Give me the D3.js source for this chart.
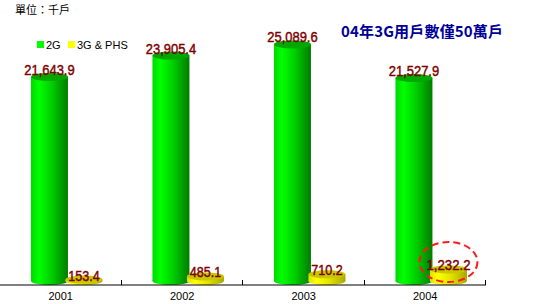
<!DOCTYPE html>
<html><head><meta charset="utf-8">
<script src="https://cdn.jsdelivr.net/npm/d3@7"></script>
<style>body{margin:0;background:#fff}svg{display:block}</style>
</head><body>
<script>
const years = ["2001","2002","2003","2004"];
const seriesNames = ["2G","3G & PHS"];
const values2G = [21643.9, 23905.4, 25089.6, 21527.9];
const values3G = [153.4, 485.1, 710.2, 1232.2];
const labels2G = ["21,643.9","23,905.4","25,089.6","21,527.9"];
const labels3G = ["153.4","485.1","710.2","1,232.2"];
const unitText = "單位：千戶";
const titleText = "04年3G用戶數僅50萬戶";

const W=555,H=304;
const svg=d3.select("body").append("svg").attr("width",W).attr("height",H);
const defs=svg.append("defs");
function grad(id,stops){
  const g=defs.append("linearGradient").attr("id",id).attr("x1","0%").attr("x2","100%").attr("y1","0%").attr("y2","0%");
  stops.forEach(s=>g.append("stop").attr("offset",s[0]).attr("stop-color",s[1]));
}
grad("gG",[["0%","#00d800"],["22%","#00ff00"],["55%","#00d000"],["100%","#007c00"]]);
grad("gY",[["0%","#e0e000"],["22%","#ffff00"],["55%","#e4e400"],["100%","#a8a800"]]);

const x=d3.scaleBand().domain(years).range([0,486]).padding(0);
const bw=x.bandwidth();
const xs=d3.scaleBand().domain(seriesNames).range([0.265*bw,0.833*bw]).padding(0);
const y=d3.scaleLinear().domain([0,28000]).range([281,17]);
const barW=37, ry=4;

const series=[
  {name:"2G",vals:values2G,labels:labels2G,fill:"url(#gG)",top:"#00a800",dy:-2,sw:"#00ff00"},
  {name:"3G & PHS",vals:values3G,labels:labels3G,fill:"url(#gY)",top:"#c8c800",dy:1,sw:"#ffff00"}
];

series.forEach(s=>{
  const g=svg.append("g");
  years.forEach((yr,i)=>{
    const cx=x(yr)+xs(s.name)+xs.bandwidth()/2;
    const yt=y(s.vals[i]), yb=y(0);
    g.append("ellipse").attr("cx",cx).attr("cy",yb).attr("rx",barW/2).attr("ry",ry).attr("fill",s.fill);
    g.append("rect").attr("x",cx-barW/2).attr("y",yt).attr("width",barW).attr("height",Math.max(0,yb-yt)).attr("fill",s.fill);
    g.append("ellipse").attr("cx",cx).attr("cy",yt).attr("rx",barW/2).attr("ry",ry).attr("fill",s.top);
  });
});
series.forEach(s=>{
  years.forEach((yr,i)=>{
    const cx=x(yr)+xs(s.name)+xs.bandwidth()/2;
    svg.append("text").attr("x",cx).attr("y",y(s.vals[i])+s.dy)
      .attr("text-anchor","middle").attr("font-family","'Liberation Sans Narrow','Arial Narrow',sans-serif")
      .attr("font-size",15).attr("fill","#800000").attr("stroke","#800000").attr("stroke-width",0.45)
      .attr("textLength",s.labels[i].length*6.3).attr("lengthAdjust","spacingAndGlyphs")
      .text(s.labels[i]);
  });
});

// axis
const ax=svg.append("g").attr("transform","translate(0,285)");
ax.append("line").attr("x1",0).attr("x2",486).attr("stroke","#000");
const bounds=years.map(d=>x(d)+bw);
ax.selectAll(".tk").data(bounds).join("line").attr("x1",d=>Math.round(d)-0.5).attr("x2",d=>Math.round(d)-0.5).attr("y1",-5).attr("y2",0).attr("stroke","#000");
ax.selectAll(".yl").data(years).join("text").attr("x",d=>x(d)+bw/2).attr("y",15)
  .attr("text-anchor","middle").attr("font-family","Arial, 'Liberation Sans', sans-serif").attr("font-size",11).attr("fill","#000").text(d=>d);

// highlight ellipse
const hx=x("2004")+xs("3G & PHS")+xs.bandwidth()/2;
svg.append("ellipse").attr("cx",hx).attr("cy",262).attr("rx",29).attr("ry",20).attr("fill","none")
  .attr("stroke","#ff1a1a").attr("stroke-width",2).attr("stroke-dasharray","7,4");

// legend
const lg=svg.append("g");
const legX=[37,68];
series.forEach((s,i)=>{
  lg.append("rect").attr("x",legX[i]).attr("y",41).attr("width",7).attr("height",7).attr("fill",s.sw);
  lg.append("text").attr("x",legX[i]+9).attr("y",48.5).attr("font-family","Arial, 'Liberation Sans', sans-serif").attr("font-size",11).attr("fill","#000").text(s.name);
});

svg.append("text").attr("x",15).attr("y",14).attr("font-family","'Noto Sans CJK TC',sans-serif").attr("font-size",11).attr("fill","#000").text(unitText);
svg.append("text").attr("x",341).attr("y",37).attr("font-family","'Noto Sans CJK TC',sans-serif").attr("font-weight","bold").attr("font-size",15).attr("fill","#000099").attr("textLength",162).attr("lengthAdjust","spacing").text(titleText);
</script>
</body></html>
